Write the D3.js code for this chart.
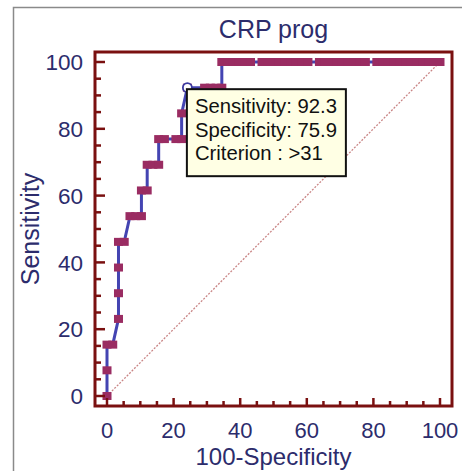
<!DOCTYPE html>
<html>
<head>
<meta charset="utf-8">
<script src="https://cdn.jsdelivr.net/npm/d3@7"></script>
<style>
  html, body { margin: 0; padding: 0; background: #ffffff; }
  svg { display: block; }
  text { font-family: "Liberation Sans", Arial, sans-serif; }
</style>
</head>
<body>
<svg id="chart" width="462" height="471"></svg>
<script>
// ---- data ----
const title = "CRP prog";
const xTitle = "100-Specificity";
const yTitle = "Sensitivity";
const tickValues = [0, 20, 40, 60, 80, 100];
const minorTickValues = d3.range(0, 101, 5);
// ROC points: 100-Specificity (%) and Sensitivity (%)
const fpr = [0, 0, 0, 1.72, 3.45, 3.45, 3.45, 3.45, 5.17, 6.90, 8.62, 10.34, 10.34, 12.07, 12.07, 13.79, 15.52, 15.52, 17.24, 20.69, 22.41, 22.41, 24.14, 29.31, 31.03, 32.76, 34.48, 34.48,
  36.21, 37.93, 39.66, 41.38, 43.10,
  46.55, 48.28, 50.00, 51.72, 53.45, 55.17, 56.90, 58.62, 60.34,
  63.79, 65.52, 67.24, 68.97, 70.69, 72.41, 74.14, 75.86, 77.59,
  81.03, 82.76, 84.48, 86.21, 87.93, 89.66, 91.38, 93.10, 94.83, 96.55, 98.28, 100];
const sens = [0, 7.69, 15.38, 15.38, 23.08, 30.77, 38.46, 46.15, 46.15, 53.85, 53.85, 53.85, 61.54, 61.54, 69.23, 69.23, 69.23, 76.92, 76.92, 76.92, 76.92, 84.62, 92.31, 92.31, 92.31, 92.31, 92.31, 100,
  100, 100, 100, 100, 100,
  100, 100, 100, 100, 100, 100, 100, 100, 100,
  100, 100, 100, 100, 100, 100, 100, 100, 100,
  100, 100, 100, 100, 100, 100, 100, 100, 100, 100, 100, 100];
const criterion = { fpr: 24.14, sens: 92.31 };
const tooltipLines = ["Sensitivity: 92.3", "Specificity: 75.9", "Criterion : >31"];

// ---- drawing ----
const svg = d3.select("#chart");
const frame = { left: 95, right: 452, top: 52, bottom: 406 };
const x = d3.scaleLinear().domain([0, 100]).range([107, 440]);
const y = d3.scaleLinear().domain([0, 100]).range([396, 62]);

const navy = "#2c2c6c";
const frameCol = "#7a1010";

// outer gray panel border
svg.append("path")
  .attr("d", "M13.5,471 L13.5,7.5 L462,7.5")
  .attr("fill", "none").attr("stroke", "#8a8a8a").attr("stroke-width", 1.5);

// title
svg.append("text").attr("x", (frame.left + frame.right) / 2).attr("y", 38)
  .attr("text-anchor", "middle").attr("font-size", 25).attr("fill", navy).text(title);

// diagonal reference line
svg.append("line")
  .attr("x1", x(0)).attr("y1", y(0)).attr("x2", x(100)).attr("y2", y(100))
  .attr("stroke", "#c98585").attr("stroke-width", 1.3).attr("stroke-dasharray", "2,1.5");

// ROC curve
const pts = fpr.map((f, i) => [f, sens[i]]);
svg.append("path").datum(pts)
  .attr("d", d3.line().x(d => x(d[0])).y(d => y(d[1])))
  .attr("fill", "none").attr("stroke", "#4444b2").attr("stroke-width", 3);

// markers
const mw = 9, mh = 8;
svg.append("g").selectAll("rect").data(pts).join("rect")
  .attr("x", d => x(d[0]) - mw / 2).attr("y", d => y(d[1]) - mh / 2)
  .attr("width", mw).attr("height", mh).attr("fill", "#9a2c62");

// criterion circle
svg.append("circle").attr("cx", x(criterion.fpr)).attr("cy", y(criterion.sens)).attr("r", 4.5)
  .attr("fill", "#ffffff").attr("stroke", "#3a3aa0").attr("stroke-width", 1.8);

// frame
svg.append("rect")
  .attr("x", frame.left).attr("y", frame.top)
  .attr("width", frame.right - frame.left).attr("height", frame.bottom - frame.top)
  .attr("fill", "none").attr("stroke", frameCol).attr("stroke-width", 3);

// y ticks (inward from left frame)
svg.append("g").selectAll("line").data(minorTickValues).join("line")
  .attr("x1", frame.left).attr("x2", d => frame.left + (d % 20 === 0 ? 10 : 6))
  .attr("y1", d => y(d)).attr("y2", d => y(d))
  .attr("stroke", frameCol).attr("stroke-width", 2.5);
// x ticks (inward from bottom frame)
svg.append("g").selectAll("line").data(minorTickValues).join("line")
  .attr("y1", frame.bottom).attr("y2", d => frame.bottom - (d % 20 === 0 ? 8 : 5))
  .attr("x1", d => x(d)).attr("x2", d => x(d))
  .attr("stroke", frameCol).attr("stroke-width", 2.5);

// tick labels
svg.append("g").selectAll("text").data(tickValues).join("text")
  .attr("x", 83).attr("y", d => y(d)).attr("dy", "0.36em")
  .attr("text-anchor", "end").attr("font-size", 22.5).attr("fill", navy).text(d => d);
svg.append("g").selectAll("text").data(tickValues).join("text")
  .attr("x", d => x(d)).attr("y", frame.bottom + 32)
  .attr("text-anchor", "middle").attr("font-size", 22).attr("fill", navy).text(d => d);

// axis titles
svg.append("text").attr("x", (frame.left + frame.right) / 2).attr("y", 465)
  .attr("text-anchor", "middle").attr("font-size", 24).attr("fill", navy).text(xTitle);
svg.append("text").attr("transform", `translate(39,${(y(0) + y(100)) / 2}) rotate(-90)`)
  .attr("text-anchor", "middle").attr("font-size", 25).attr("fill", navy).text(yTitle);

// tooltip
const tx = x(criterion.fpr) - 0.5, ty = y(criterion.sens) + 1.5;
const tip = svg.append("g");
tip.append("rect").attr("x", tx).attr("y", ty).attr("width", 159).attr("height", 87)
  .attr("fill", "#ffffe4").attr("stroke", "#111111").attr("stroke-width", 2);
tip.selectAll("text").data(tooltipLines).join("text")
  .attr("x", tx + 8).attr("y", (d, i) => ty + 24 + i * 23.5)
  .attr("font-size", 20.3).attr("fill", "#111111").text(d => d);
</script>
</body>
</html>
